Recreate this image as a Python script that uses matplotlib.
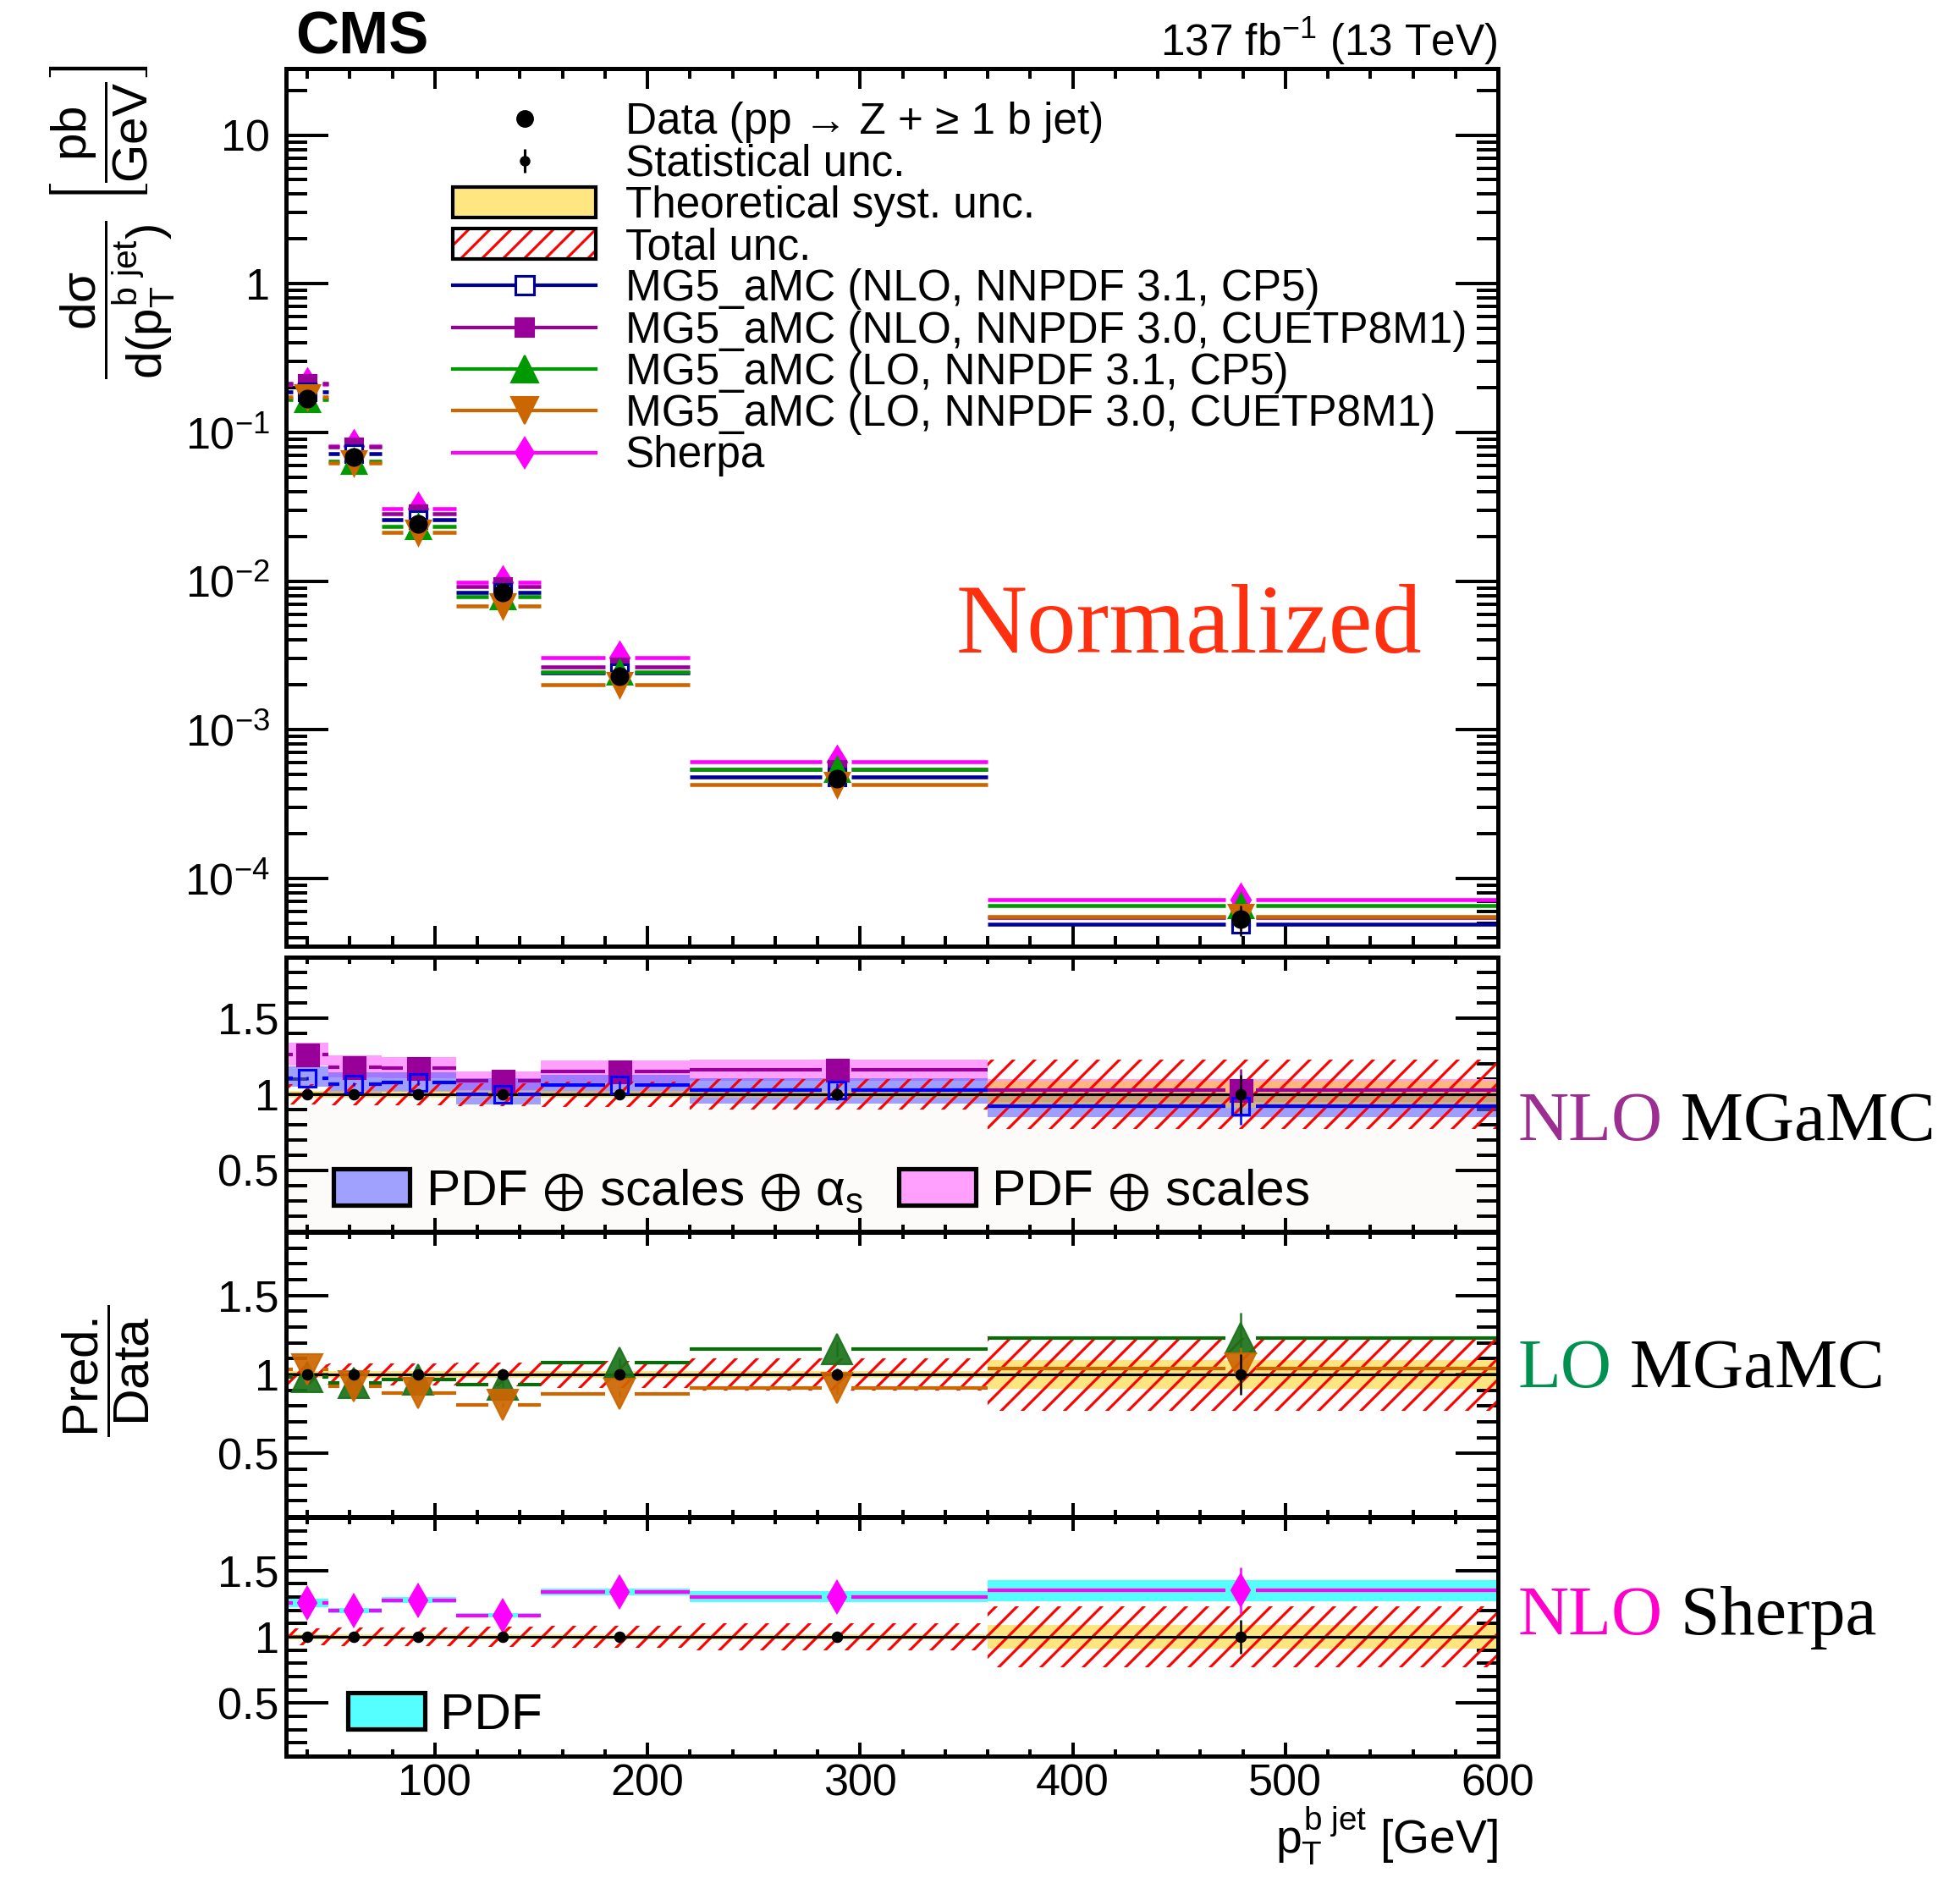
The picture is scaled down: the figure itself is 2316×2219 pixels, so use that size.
import matplotlib
matplotlib.use('Agg')
import matplotlib.pyplot as plt
import numpy as np
from matplotlib.patches import Patch, Rectangle
from matplotlib.lines import Line2D
from matplotlib.legend_handler import HandlerTuple
from matplotlib.ticker import MultipleLocator, LogLocator, FuncFormatter, NullFormatter

plt.rcParams['font.family'] = ['Liberation Sans', 'DejaVu Sans']
plt.rcParams['mathtext.fontset'] = 'custom'
plt.rcParams['mathtext.rm'] = 'Liberation Sans'
plt.rcParams['mathtext.it'] = 'Liberation Sans'
plt.rcParams['mathtext.bf'] = 'Liberation Sans:bold'
plt.rcParams['mathtext.sf'] = 'Liberation Sans'
plt.rcParams['mathtext.fallback'] = 'stixsans'
plt.rcParams['hatch.linewidth'] = 1.5

# b jet pT binning [GeV]
bin_edges = [30, 50, 75, 110, 150, 220, 360, 600]
bin_centres = [40, 62, 92, 132, 187, 289, 479]

# normalised data [pb/GeV] and relative uncertainties
data = [0.169, 0.0679, 0.0241, 0.00843, 0.00229, 0.000467, 5.33e-5]
stat_rel = [0.01, 0.01, 0.015, 0.02, 0.025, 0.04, 0.13]
theo_rel = [0.02, 0.02, 0.02, 0.02, 0.02, 0.02, 0.09]
total_rel = [0.065, 0.07, 0.07, 0.075, 0.085, 0.10, 0.23]

# prediction / data
r_nlo31 = [1.106, 1.066, 1.079, 1.00, 1.06, 1.03, 0.92]
r_nlo30 = [1.262, 1.18, 1.17, 1.088, 1.152, 1.161, 1.03]
r_lo31 = [0.985, 0.948, 0.968, 0.9375, 1.073, 1.161, 1.229]
r_lo30 = [1.03, 0.923, 0.884, 0.809, 0.877, 0.9125, 1.0375]
r_sherpa = [1.255, 1.198, 1.277, 1.162, 1.336, 1.302, 1.349]

# theory bands on the ratios
nlo31_band_lo = [1.051, 1.005, 1.015, 0.932, 0.99, 0.94, 0.85]
nlo31_band_hi = [1.183, 1.145, 1.143, 1.108, 1.13, 1.106, 1.00]
nlo30_band_lo = [1.187, 1.11, 1.105, 1.03, 1.08, 1.09, 0.95]
nlo30_band_hi = [1.337, 1.256, 1.244, 1.152, 1.22, 1.23, 1.10]
sherpa_pdf = [0.03, 0.02, 0.02, 0.018, 0.025, 0.04, 0.078]

W, H = 2316, 2219
fig = plt.figure(figsize=(W / 150, H / 150), dpi=150)


def box(top, bottom, left=338, right=1770):
    return [left / W, 1 - bottom / H, (right - left) / W, (bottom - top) / H]


ax0 = fig.add_axes(box(81, 1118))
ax1 = fig.add_axes(box(1131, 1455))
ax2 = fig.add_axes(box(1456, 1792))
ax3 = fig.add_axes(box(1793, 2075))

centres = np.array(bin_centres)
edges = np.array(bin_edges)
d = np.array(data)
stat = np.array(stat_rel)
GAP = 7.0
HATCH = '//'


def bin_lines(ax, y, color, lw, zorder):
    for xc, a, b, v in zip(centres, edges[:-1], edges[1:], y):
        ax.plot([a, xc - GAP], [v, v], color=color, lw=lw, zorder=zorder, solid_capstyle='butt')
        ax.plot([xc + GAP, b], [v, v], color=color, lw=lw, zorder=zorder, solid_capstyle='butt')


def style(ax, xlen, ylen):
    for s in ax.spines.values():
        s.set_linewidth(2.4)
        s.set_zorder(20)
    ax.set_xlim(30, 600)
    ax.xaxis.set_major_locator(MultipleLocator(100))
    ax.xaxis.set_minor_locator(MultipleLocator(20))
    ax.tick_params(which='both', direction='in', top=True, right=True, width=1.9, labelsize=25)
    ax.tick_params(axis='x', which='major', length=xlen[0])
    ax.tick_params(axis='x', which='minor', length=xlen[1])
    ax.tick_params(axis='y', which='major', length=ylen[0])
    ax.tick_params(axis='y', which='minor', length=ylen[1])


# ---------------- main panel ----------------
style(ax0, (11.5, 5.8), (24, 12))
ax0.set_yscale('log')
ax0.set_ylim(3.5e-5, 28)
ax0.yaxis.set_major_locator(LogLocator(base=10, numticks=20))
ax0.yaxis.set_minor_locator(LogLocator(base=10, subs=np.arange(2, 10), numticks=20))
ax0.yaxis.set_minor_formatter(NullFormatter())


def log_label(v, pos):
    e = int(round(np.log10(v)))
    if e == 1:
        return '10'
    if e == 0:
        return '1'
    return r'$10^{%d}$' % e


ax0.yaxis.set_major_formatter(FuncFormatter(log_label))
ax0.tick_params(axis='y', pad=9)
ax0.tick_params(axis='x', labelbottom=False)

main_series = [
    (r_sherpa, '#ff00ff', 'd', 12, True),
    (r_nlo30, '#990099', 's', 10, True),
    (r_nlo31, '#000099', 's', 10, False),
    (r_lo31, '#009900', '^', 13, True),
    (r_lo30, '#cc6600', 'v', 13, True),
]
for z, (r, c, m, ms, filled) in enumerate(main_series):
    y = d * np.array(r)
    bin_lines(ax0, y, c, 2.2, 3 + z)
    ax0.plot(centres, y, ls='none', marker=m, ms=ms, color=c,
             mfc=c if filled else 'white', mew=1.5, zorder=8 + z)
ax0.errorbar(centres, d, yerr=d * np.array(total_rel), fmt='o', ms=9.6, color='k',
             elinewidth=1.2, zorder=15)

fig.text(1680 / W, 1 - 771 / H, 'Normalized', family='Liberation Serif', size=56,
         color='#ff3010', ha='right', va='baseline')

leg_handles = [
    Line2D([], [], marker='o', color='k', ls='none', ms=9),
    (Line2D([], [], color='k', marker='|', ms=13.5, mew=1.5, ls='none'),
     Line2D([], [], color='k', marker='o', ms=5, ls='none')),
    Patch(facecolor='#ffe680', edgecolor='k', lw=2),
    (Patch(facecolor='white', edgecolor='red', hatch=HATCH, lw=0),
     Patch(facecolor='none', edgecolor='k', lw=2)),
    Line2D([], [], color='#000099', lw=2, marker='s', ms=10.5, mfc='white', mew=1.5),
    Line2D([], [], color='#990099', lw=2, marker='s', ms=10.5),
    Line2D([], [], color='#009900', lw=2, marker='^', ms=15),
    Line2D([], [], color='#cc6600', lw=2, marker='v', ms=15),
    Line2D([], [], color='#ff00ff', lw=2, marker='d', ms=12),
]
leg_labels = [
    'Data (pp \u2192 Z + \u2265 1 b jet)',
    'Statistical unc.',
    'Theoretical syst. unc.',
    'Total unc.',
    'MG5_aMC (NLO, NNPDF 3.1, CP5)',
    'MG5_aMC (NLO, NNPDF 3.0, CUETP8M1)',
    'MG5_aMC (LO, NNPDF 3.1, CP5)',
    'MG5_aMC (LO, NNPDF 3.0, CUETP8M1)',
    'Sherpa',
]
ax0.legend(leg_handles, leg_labels, loc='upper left', bbox_to_anchor=(0.1376, 0.962),
           frameon=False, fontsize=24.6, borderpad=0, borderaxespad=0,
           handlelength=3.3, handleheight=0.7, handletextpad=0.67, labelspacing=0.005,
           numpoints=1, handler_map={tuple: HandlerTuple(ndivide=1, pad=0)})

# ---------------- ratio panels ----------------
YELLOW = '#ffcc00'


def ratio_common(ax):
    style(ax, (7.7, 3.8), (24, 12))
    ax.set_ylim(0.1, 1.9)
    ax.yaxis.set_major_locator(MultipleLocator(0.5))
    ax.yaxis.set_minor_locator(MultipleLocator(0.1))
    ax.yaxis.set_major_formatter(FuncFormatter(lambda v, p: '%g' % v))
    ax.tick_params(axis='y', pad=4)
    one = np.ones(len(d))
    th = np.array(theo_rel)
    tot = np.array(total_rel)
    ax.stairs(one + th, edges, baseline=one - th, fill=True, facecolor=YELLOW,
              alpha=0.5, lw=0, zorder=4)
    ax.stairs(one + tot, edges, baseline=one - tot, fill=True, facecolor='none',
              edgecolor='red', hatch=HATCH, lw=0, zorder=5)
    ax.axhline(1.0, color='k', lw=1.5, zorder=6)
    ax.errorbar(centres, one, yerr=stat, fmt='o', ms=5.5, color='k', elinewidth=1.2,
                zorder=14)


ratio_common(ax1)
ratio_common(ax2)
ratio_common(ax3)
ax1.tick_params(axis='x', labelbottom=False)
ax2.tick_params(axis='x', labelbottom=False)
ax3.tick_params(axis='x', pad=4)

# panel 1: NLO MGaMC
ax1.add_patch(Rectangle((0, 0), 1, 0.465, transform=ax1.transAxes, facecolor='#fcfbf9',
                        edgecolor='none', zorder=0))
ax1.stairs(nlo30_band_hi, edges, baseline=nlo30_band_lo, fill=True, facecolor='#ffa0ff',
           lw=0, zorder=2)
ax1.stairs(nlo31_band_hi, edges, baseline=nlo31_band_lo, fill=True, facecolor='#6060ff',
           alpha=0.6, lw=0, zorder=3)
for r, c, mfc, ms, z in [(r_nlo30, '#990099', '#990099', 12, 7), (r_nlo31, '#0000ff', 'none', 10, 8)]:
    r = np.array(r)
    bin_lines(ax1, r, c, 2.0, z)
    ax1.errorbar(centres, r, yerr=r * stat, fmt='s', ms=ms, color=c, mfc=mfc, mew=1.5,
                 elinewidth=1.2, zorder=z + 2)
ax1.legend([Patch(facecolor='#a0a0ff', edgecolor='k', lw=2.5),
            Patch(facecolor='#ffa0ff', edgecolor='k', lw=2.5)],
           [r'PDF $\oplus$ scales $\oplus$ $\alpha_{s}$', r'PDF $\oplus$ scales'],
           loc='center left', bbox_to_anchor=(0.039, 0.145), ncol=2, frameon=False,
           fontsize=29, borderpad=0, borderaxespad=0, handlelength=1.5, handleheight=0.73,
           handletextpad=0.3, columnspacing=0.7)

# panel 2: LO MGaMC
for r, c, mc, m, z in [(r_lo31, '#0b6b0b', '#1a721a', '^', 7), (r_lo30, '#cc6600', '#cc6600', 'v', 9)]:
    r = np.array(r)
    bin_lines(ax2, r, c, 2.0, z)
    ax2.errorbar(centres, r, yerr=r * stat, fmt=m, ms=17, color=mc, ecolor=c, alpha=0.92,
                 elinewidth=1.2, zorder=z + 1)

# panel 3: Sherpa
rs = np.array(r_sherpa)
pdf = np.array(sherpa_pdf)
ax3.stairs(rs + pdf, edges, baseline=rs - pdf, fill=True, facecolor='#55ffff', lw=0, zorder=3)
bin_lines(ax3, rs, '#ff00ff', 2.0, 7)
ax3.errorbar(centres, rs, yerr=rs * stat, fmt='d', ms=13, color='#ff00ff', elinewidth=1.2,
             zorder=9)
ax3.legend([Patch(facecolor='#55ffff', edgecolor='k', lw=2.5)], ['PDF'],
           loc='center left', bbox_to_anchor=(0.051, 0.17), frameon=False, fontsize=29,
           borderpad=0, borderaxespad=0, handlelength=1.5, handleheight=0.73,
           handletextpad=0.3)

# ---------------- labels ----------------
fig.text(349 / W, 1 - 63 / H, 'CMS', weight='bold', size=34, va='baseline')
fig.text(1770 / W, 1 - 66 / H, '137 fb$^{-1}$ (13 TeV)', size=24.7, ha='right', va='baseline')
fig.text(133 / W, 1 - 262 / H,
         r'$\dfrac{d\sigma}{d(p_{T}^{b\ jet})}\ \left[\dfrac{pb}{GeV}\right]$',
         size=28, rotation=90, ha='center', va='center')
fig.text(125 / W, 1 - 1620 / H, r'$\dfrac{Pred.}{Data}$', size=29, rotation=90,
         ha='center', va='center')
fig.text(1770 / W, 1 - 2190 / H, r'$p_{T}^{b\ jet}$ [GeV]', size=26.5, ha='right',
         va='baseline')

for base, first, col, rest in [(1347, 'NLO', '#9c2d91', ' MGaMC'),
                               (1639, 'LO', '#009050', ' MGaMC'),
                               (1931, 'NLO', '#ff00cc', ' Sherpa')]:
    t = fig.text(1794 / W, 1 - base / H, first, family='Liberation Serif', size=40,
                 color=col, va='baseline')
    fig.add_artist(matplotlib.text.Annotation(rest, xy=(1, 0), xycoords=t,
                                              family='Liberation Serif', size=40, color='k',
                                              va='bottom', ha='left', annotation_clip=False))

fig.savefig('out.png', dpi=150)
